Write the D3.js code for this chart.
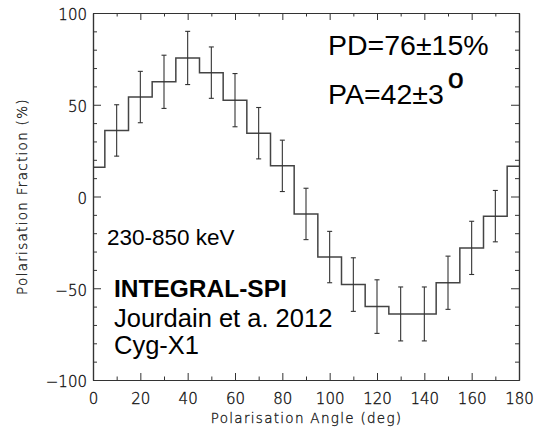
<!DOCTYPE html>
<html><head><meta charset="utf-8">
<script src="https://cdn.jsdelivr.net/npm/d3@7"></script>
<style>
html,body{margin:0;padding:0;background:#fff;}
svg{display:block;}
.tick text{font-family:"DejaVu Sans",sans-serif;font-weight:200;fill:#000;stroke:#222;stroke-width:0.35;}
.atitle{font-family:"DejaVu Sans",sans-serif;font-weight:200;fill:#000;stroke:#222;stroke-width:0.3;}
</style>
</head><body>
<svg id="chart" width="535" height="428"></svg>
<script>
const angles = [0,10,20,30,40,50,60,70,80,90,100,110,120,130,140,150,160,170,180];
const fractions = [16,36,54.2,62.5,75.5,67.5,52.5,34.5,16.7,-9.5,-33,-48,-60,-64,-64,-47,-28,-10.7,16.5];
const errors = [14,14,14,14.5,14.5,14,14.5,14,14,14,14,14.6,14.6,14.7,14.7,14.5,14.5,14,14];
const xMajorTicks = [0,20,40,60,80,100,120,140,160,180];
const xMinorTicks = [10,30,50,70,90,110,130,150,170];
const yMajorTicks = [-100,-50,0,50,100];
const yMinorTicks = [-90,-80,-70,-60,-40,-30,-20,-10,10,20,30,40,60,70,80,90];
const xTitle = "Polarisation Angle (deg)";
const yTitle = "Polarisation Fraction (%)";
const annotations = ["PD=76±15%", "PA=42±3", "230-850 keV", "INTEGRAL-SPI", "Jourdain et a. 2012", "Cyg-X1"];

const svg = d3.select("#chart");
const L = 93, R = 519, T = 13, B = 380;
const x = d3.scaleLinear().domain([0,180]).range([L,R]);
const y = d3.scaleLinear().domain([-100,100]).range([B,T]);
const axisColor = "#333";
const data = angles.map((a,i)=>({a, v:fractions[i], e:errors[i]}));

// histogram
const line = d3.line().x(d=>x(d.a)).y(d=>y(d.v)).curve(d3.curveStep);
svg.append("path").datum(data).attr("d", line)
  .attr("fill","none").attr("stroke","#444").attr("stroke-width",1.5);

// error bars
const eb = svg.append("g").attr("stroke","#333").attr("stroke-width",1.1);
data.filter(d=>d.a>0 && d.a<180).forEach(d=>{
  const cx = x(d.a);
  eb.append("line").attr("x1",cx).attr("x2",cx).attr("y1",y(d.v+d.e)).attr("y2",y(d.v-d.e));
  eb.append("line").attr("x1",cx-2.5).attr("x2",cx+2.5).attr("y1",y(d.v+d.e)).attr("y2",y(d.v+d.e));
  eb.append("line").attr("x1",cx-2.5).attr("x2",cx+2.5).attr("y1",y(d.v-d.e)).attr("y2",y(d.v-d.e));
});

function styleAxis(g){
  g.select(".domain").attr("stroke",axisColor).attr("stroke-width",1.2);
  g.selectAll(".tick line").attr("stroke",axisColor).attr("stroke-width",1);
}

// bottom axis
const gB = svg.append("g").attr("transform",`translate(0,${B})`)
  .call(d3.axisBottom(x).tickValues(xMajorTicks).tickSizeInner(-7).tickSizeOuter(0).tickPadding(13).tickFormat(d3.format("d")));
gB.selectAll(".tick text").attr("font-size",15);
styleAxis(gB);
const gBm = svg.append("g").attr("transform",`translate(0,${B})`)
  .call(d3.axisBottom(x).tickValues(xMinorTicks).tickSizeInner(-3.5).tickSizeOuter(0).tickFormat(""));
styleAxis(gBm);
// top axis
const gT = svg.append("g").attr("transform",`translate(0,${T})`)
  .call(d3.axisTop(x).tickValues(xMajorTicks).tickSizeInner(-7).tickSizeOuter(0).tickFormat(""));
styleAxis(gT);
const gTm = svg.append("g").attr("transform",`translate(0,${T})`)
  .call(d3.axisTop(x).tickValues(xMinorTicks).tickSizeInner(-3.5).tickSizeOuter(0).tickFormat(""));
styleAxis(gTm);
// left axis
const gL = svg.append("g").attr("transform",`translate(${L},0)`)
  .call(d3.axisLeft(y).tickValues(yMajorTicks).tickSizeInner(-8).tickSizeOuter(0).tickPadding(6)
    .tickFormat(d=> d<0 ? "\u2212"+Math.abs(d) : d));
gL.selectAll(".tick text").attr("font-size",15).attr("dy","0.45em");
styleAxis(gL);
const gLm = svg.append("g").attr("transform",`translate(${L},0)`)
  .call(d3.axisLeft(y).tickValues(yMinorTicks).tickSizeInner(-4).tickSizeOuter(0).tickFormat(""));
styleAxis(gLm);
// right axis
const gR = svg.append("g").attr("transform",`translate(${R},0)`)
  .call(d3.axisRight(y).tickValues(yMajorTicks).tickSizeInner(-8).tickSizeOuter(0).tickFormat(""));
styleAxis(gR);
const gRm = svg.append("g").attr("transform",`translate(${R},0)`)
  .call(d3.axisRight(y).tickValues(yMinorTicks).tickSizeInner(-4).tickSizeOuter(0).tickFormat(""));
styleAxis(gRm);

// axis titles
svg.append("text").attr("class","atitle").attr("x",(L+R)/2+0.6).attr("y",423).attr("text-anchor","middle")
  .attr("font-size",13.5).attr("letter-spacing",1.3).text(xTitle);
svg.append("text").attr("class","atitle").attr("transform",`translate(27,${(T+B)/2}) rotate(-90)`).attr("text-anchor","middle")
  .attr("font-size",13.5).attr("letter-spacing",1.3).text(yTitle);

// annotations
const af = '"Liberation Sans",Arial,sans-serif';
function ann(t,xx,yy,size,bold){
  return svg.append("text").attr("x",xx).attr("y",yy).attr("font-family",af)
    .attr("font-size",size).attr("font-weight",bold?"bold":"normal").attr("fill","#000").text(t);
}
ann(annotations[0],328,55,28.5);
ann(annotations[1],328,104,28.5);
ann("o",448,87.5,28,false).attr("stroke","#000").attr("stroke-width",0.6);
ann(annotations[2],107,245,22.5);
ann(annotations[3],114,297,24.5,true);
ann(annotations[4],114,327,25.5);
ann(annotations[5],114,354,25.5);
</script>
</body></html>
